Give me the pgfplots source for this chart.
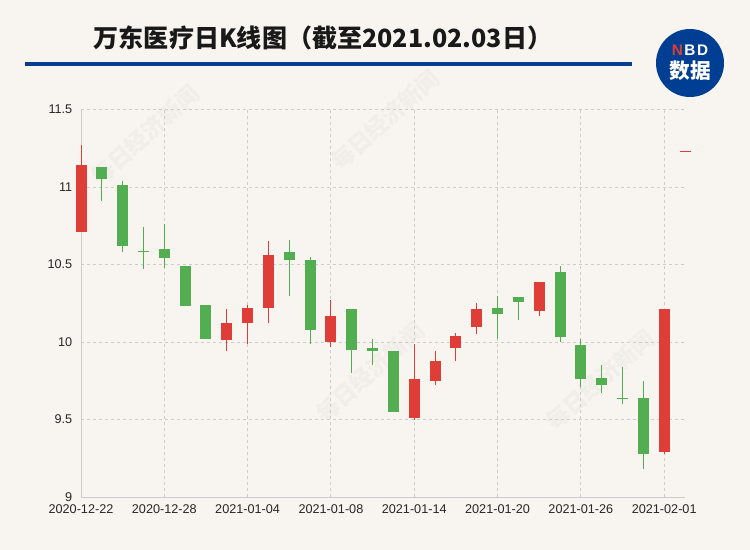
\documentclass[border=0pt]{standalone}
\usepackage{fontspec}
\setmainfont{Liberation Sans}
\newfontfamily\cjk{Noto Sans CJK SC}
\usepackage{pgfplots}
\pgfplotsset{compat=1.18}
\usepackage{pgfplotstable}
\definecolor{bg}{RGB}{248,245,240}
\definecolor{upred}{RGB}{222,62,55}
\definecolor{dngreen}{RGB}{82,174,80}
\definecolor{nbdblue}{RGB}{0,62,148}
\definecolor{gridc}{RGB}{204,204,204}
\definecolor{wm}{RGB}{241,237,232}

% up days (red): index, open, close, high, low
\pgfplotstableread{
i O C H L
0 10.71 11.14 11.27 10.71
7 10.01 10.12 10.21 9.94
8 10.12 10.22 10.24 9.99
9 10.22 10.56 10.65 10.12
12 10.00 10.17 10.27 9.97
16 9.51 9.76 9.99 9.50
17 9.75 9.88 9.94 9.72
18 9.96 10.04 10.06 9.88
19 10.10 10.21 10.25 10.05
22 10.20 10.39 10.39 10.17
28 9.29 10.21 10.21 9.28
29 11.225 11.235 11.235 11.225
}\up

% down days (green)
\pgfplotstableread{
i O C H L
1 11.13 11.05 11.13 10.91
2 11.01 10.62 11.04 10.58
3 10.59 10.58 10.74 10.47
4 10.60 10.54 10.76 10.48
5 10.49 10.23 10.49 10.23
6 10.24 10.02 10.24 10.02
10 10.58 10.53 10.66 10.30
11 10.53 10.08 10.55 9.99
13 10.21 9.95 10.21 9.80
14 9.96 9.94 10.02 9.85
15 9.94 9.55 9.94 9.55
20 10.22 10.18 10.30 10.02
21 10.29 10.26 10.29 10.14
23 10.45 10.03 10.49 10.00
24 9.98 9.76 10.02 9.71
25 9.77 9.72 9.85 9.67
26 9.64 9.63 9.84 9.60
27 9.64 9.28 9.75 9.18
}\down

\begin{document}
\begin{tikzpicture}
\begin{scope}[x=0.75pt,y=-0.75pt]
\fill[bg] (0,0) rectangle (750,550);
\useasboundingbox (0,0) rectangle (750,550);
% watermarks
\foreach \wx/\wy in {145/135, 385/120, 370/372, 600/380}{
  \node[text=wm, rotate=42, inner sep=0pt, font=\cjk\bfseries\fontsize{17}{17}\selectfont] at (\wx,\wy) {每日经济新闻};
}
% title
\node[font=\cjk\bfseries\fontsize{18.8}{21}\selectfont, text=black!90] at (323,38) {万东医疗日K线图（截至2021.02.03日）};
\fill[nbdblue] (25,62) rectangle (632,66);
% logo
\fill[nbdblue] (690,63) circle (25.5pt);
\node[inner sep=0pt, font=\bfseries\fontsize{11.5}{11.5}\selectfont, text=white] at (690,50.5) {\textcolor{upred}{N}\hspace{1.2pt}B\hspace{1.2pt}D};
\node[inner sep=0pt, font=\cjk\bfseries\fontsize{15.5}{16}\selectfont, text=white] at (690,71) {数据};
\end{scope}
\begin{axis}[
  at={(60.75pt,-372.75pt)}, anchor=south west,
  scale only axis, width=453pt, height=290.6pt,
  xmin=0, xmax=29, ymin=9, ymax=11.5,
  clip=false,
  axis x line*=bottom, axis y line*=left,
  axis line style={gridc, line width=0.75pt, -},
  xtick={0,4,8,12,16,20,24,28},
  xticklabels={2020-12-22,2020-12-28,2021-01-04,2021-01-08,2021-01-14,2021-01-20,2021-01-26,2021-02-01},
  ytick={9,9.5,10,10.5,11,11.5},
  yticklabels={9,9.5,10,10.5,11,11.5},
  major tick length=0pt,
  grid=major,
  grid style={gridc, line width=0.75pt, dash pattern=on 2.25pt off 2.25pt},
  tick label style={font=\fontsize{9.5}{11}\selectfont, text=black!85},
  /pgf/number format/assume math mode=true,
  yticklabel style={xshift=-3pt},
  xticklabel style={yshift=-2.5pt},
]
% wicks
\addplot[draw=none, mark=none, forget plot, error bars/.cd, y dir=plus, y explicit, error mark=none,
  error bar style={draw=upred, line width=0.75pt, solid}]
  table[x=i, y=L, y error expr=\thisrow{H}-\thisrow{L}] {\up};
\addplot[draw=none, mark=none, forget plot, error bars/.cd, y dir=plus, y explicit, error mark=none,
  error bar style={draw=dngreen, line width=0.75pt, solid}]
  table[x=i, y=L, y error expr=\thisrow{H}-\thisrow{L}] {\down};
% bodies
\addplot[draw=none, mark=none, forget plot, error bars/.cd, y dir=plus, y explicit, error mark=none,
  error bar style={draw=upred, line width=8.25pt, solid}]
  table[x=i, y=O, y error expr=\thisrow{C}-\thisrow{O}] {\up};
\addplot[draw=none, mark=none, forget plot, error bars/.cd, y dir=plus, y explicit, error mark=none,
  error bar style={draw=dngreen, line width=8.25pt, solid}]
  table[x=i, y=C, y error expr=\thisrow{O}-\thisrow{C}] {\down};
\end{axis}
\end{tikzpicture}
\end{document}
